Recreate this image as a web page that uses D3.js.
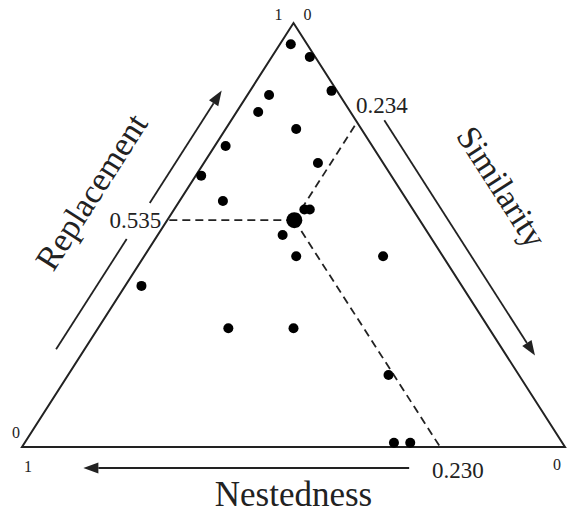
<!DOCTYPE html>
<html>
<head>
<meta charset="utf-8">
<script src="https://cdn.jsdelivr.net/npm/d3@7"></script>
<style>
  body { margin: 0; background: #fff; }
  text { font-family: "Liberation Serif", "Times New Roman", serif; fill: #222; }
</style>
</head>
<body>
<div id="chart"></div>
<script>
// ternary values (each row sums to ~1)
const replacement = [0.95, 0.92, 0.84, 0.83, 0.79, 0.75, 0.71, 0.67, 0.64, 0.58, 0.56, 0.56, 0.50, 0.45, 0.45, 0.38, 0.28, 0.28, 0.17, 0.01, 0.01];
const similarity  = [0.02, 0.07, 0.15, 0.04, 0.04, 0.13, 0.02, 0.21, 0.01, 0.08, 0.24, 0.25, 0.23, 0.28, 0.44, 0.03, 0.24, 0.36, 0.59, 0.68, 0.71];
const nestedness  = [0.03, 0.01, 0.01, 0.13, 0.17, 0.12, 0.27, 0.12, 0.35, 0.34, 0.20, 0.19, 0.27, 0.27, 0.11, 0.59, 0.48, 0.36, 0.24, 0.31, 0.28];

// mean of the three components
const meanNames = ['Replacement', 'Similarity', 'Nestedness'];
const meanValues = [0.535, 0.234, 0.230];

const W = 573, H = 514;

const svg = d3.select('#chart').append('svg')
  .attr('width', W)
  .attr('height', H);

// base of the triangle runs along x, height along y
const x = d3.scaleLinear().domain([0, 1]).range([22, 565]);
const y = d3.scaleLinear().domain([0, 1]).range([447, 23]);

// r = replacement (top corner), s = similarity (bottom right)
const project = (r, s) => [x(s + r / 2), y(r)];

const apex = project(1, 0), bl = project(0, 0), br = project(0, 1);
const ink = '#222';

svg.append('path')
  .attr('d', d3.line()([apex, br, bl]) + 'Z')
  .attr('fill', 'none')
  .attr('stroke', ink)
  .attr('stroke-width', 2)
  .attr('stroke-linejoin', 'miter');

// dashed guides from the mean point to each side
const [mR, mS, mN] = meanValues;
const mean = project(mR, mS);
const guides = [
  project(mR, 0),          // left side, same replacement
  project(1 - mS, mS),     // right side, same similarity
  project(0, 1 - mN)       // base, same nestedness
];
guides.forEach(g => {
  svg.append('line')
    .attr('x1', mean[0]).attr('y1', mean[1])
    .attr('x2', g[0]).attr('y2', g[1])
    .attr('stroke', ink)
    .attr('stroke-width', 1.8)
    .attr('stroke-dasharray', '8,5');
});

// points
const pts = replacement.map((r, i) => ({r: r, s: similarity[i], n: nestedness[i]}));
svg.selectAll('.pt')
  .data(pts)
  .enter()
  .append('circle')
  .attr('class', 'pt')
  .attr('cx', d => project(d.r, d.s)[0])
  .attr('cy', d => project(d.r, d.s)[1])
  .attr('r', 5)
  .attr('fill', '#000');

svg.append('circle')
  .attr('cx', mean[0]).attr('cy', mean[1])
  .attr('r', 8)
  .attr('fill', '#000');

// arrows
const arrow = (p0, p1) => {
  const dx = p1[0] - p0[0], dy = p1[1] - p0[1];
  const len = Math.hypot(dx, dy), ux = dx / len, uy = dy / len;
  const hl = 15, hw = 5.5;
  const base = [p1[0] - ux * hl, p1[1] - uy * hl];
  svg.append('line')
    .attr('x1', p0[0]).attr('y1', p0[1])
    .attr('x2', base[0]).attr('y2', base[1])
    .attr('stroke', ink).attr('stroke-width', 1.8);
  svg.append('path')
    .attr('d', d3.line()([p1, [base[0] - uy * hw, base[1] + ux * hw], [base[0] + uy * hw, base[1] - ux * hw]]) + 'Z')
    .attr('fill', ink);
};
const seg = (p0, p1) => svg.append('line')
  .attr('x1', p0[0]).attr('y1', p0[1])
  .attr('x2', p1[0]).attr('y2', p1[1])
  .attr('stroke', ink).attr('stroke-width', 1.8);

// offset a point on a side outward by d pixels
const offset = (p, a, b, d) => {
  const dx = b[0] - a[0], dy = b[1] - a[1], len = Math.hypot(dx, dy);
  return [p[0] + dy / len * d, p[1] - dx / len * d];
};
const onLeft = t => [bl[0] + (apex[0] - bl[0]) * t, bl[1] + (apex[1] - bl[1]) * t];
const onRight = t => [apex[0] + (br[0] - apex[0]) * t, apex[1] + (br[1] - apex[1]) * t];

// left arrow (replacement, upward) with a gap round the 0.535 label
seg(offset(onLeft(0.2), bl, apex, 24), offset(onLeft(0.46), bl, apex, 24));
arrow(offset(onLeft(0.545), bl, apex, 24), offset(onLeft(0.81), bl, apex, 24));

// right arrow (similarity, downward)
arrow(offset(onRight(0.26), apex, br, 24), offset(onRight(0.815), apex, br, 24));

// bottom arrow (nestedness, leftward)
arrow([x(0.713), 468], [x(0.113), 468]);

// corner tick labels
const cornerLabels = ['1', '0', '0', '1', '0'];
const cornerPos = [
  [apex[0] - 15, apex[1] - 3],
  [apex[0] + 14, apex[1] - 3],
  [bl[0] - 6, bl[1] - 9],
  [bl[0] + 6, bl[1] + 25],
  [br[0] - 8, br[1] + 23]
];
cornerLabels.forEach((t, i) => {
  svg.append('text')
    .attr('x', cornerPos[i][0]).attr('y', cornerPos[i][1])
    .attr('text-anchor', 'middle')
    .attr('font-size', 16)
    .text(t);
});

// mean value labels
const fmt = d3.format('.3f');
svg.append('text')
  .attr('x', guides[0][0] - 6).attr('y', guides[0][1] + 8)
  .attr('text-anchor', 'end').attr('font-size', 23)
  .text(fmt(mR));
svg.append('text')
  .attr('x', guides[1][0] - 1).attr('y', guides[1][1] - 9)
  .attr('text-anchor', 'start').attr('font-size', 23)
  .text(fmt(mS));
svg.append('text')
  .attr('x', guides[2][0] - 8).attr('y', 478)
  .attr('text-anchor', 'start').attr('font-size', 23)
  .text(fmt(mN));

// axis titles
const leftAngle = Math.atan2(apex[1] - bl[1], apex[0] - bl[0]) * 180 / Math.PI;
const rightAngle = Math.atan2(br[1] - apex[1], br[0] - apex[0]) * 180 / Math.PI;
svg.append('text')
  .attr('transform', `translate(101,198) rotate(${leftAngle})`)
  .attr('text-anchor', 'middle').attr('font-size', 34)
  .text(meanNames[0]);
svg.append('text')
  .attr('transform', `translate(492,193) rotate(${rightAngle})`)
  .attr('text-anchor', 'middle').attr('font-size', 34)
  .text(meanNames[1]);
svg.append('text')
  .attr('x', x(0.5)).attr('y', 506)
  .attr('text-anchor', 'middle').attr('font-size', 35)
  .text(meanNames[2]);
</script>
</body>
</html>
